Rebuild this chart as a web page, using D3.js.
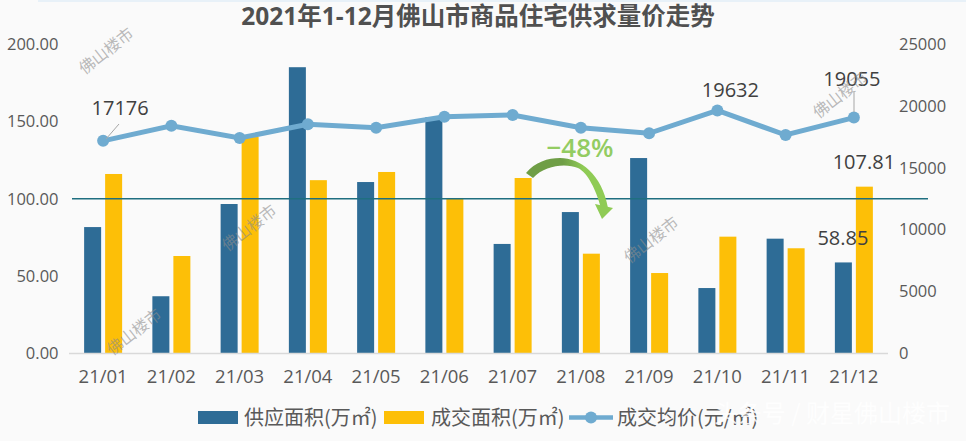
<!DOCTYPE html>
<html>
<head>
<meta charset="utf-8">
<script src="https://cdn.jsdelivr.net/npm/d3@7"></script>
<style>
html, body { margin: 0; padding: 0; background: #fafafa; }
svg { display: block; }
text { font-family: "Open Sans", "Noto Sans CJK SC", sans-serif; }
</style>
</head>
<body>
<svg id="chart" width="966" height="441"></svg>
<script>
var months = ["21/01","21/02","21/03","21/04","21/05","21/06","21/07","21/08","21/09","21/10","21/11","21/12"];
var supply = [81.7,37,96.6,185,110.8,152.7,70.8,91.4,126.3,42.3,74.2,58.85];
var sold = [116,63,140,112,117.3,100.5,113.4,64.5,52,75.5,68,107.81];
var price = [17176,18400,17407,18510,18240,19130,19265,18240,17790,19632,17650,19055];
var leftTicks = [0,50,100,150,200];
var rightTicks = [0,5000,10000,15000,20000,25000];
var marks = ["佛山楼市"];

var svg = d3.select("#chart");
var textColor = "#595959", blue = "#2e6c96", yellow = "#fdbf07", lineColor = "#6fabd0";

var x = d3.scaleBand().domain(months).range([69, 888]);
var yLeft = d3.scaleLinear().domain([0,200]).range([353.5, 44]);
var yRight = d3.scaleLinear().domain([0,25000]).range([353.5, 44]);
var barW = 17;

// strip along the top edge
svg.append("rect").attr("x",38).attr("y",0).attr("width",928).attr("height",2).attr("fill","#e8f1f8");

// title
svg.append("text").attr("x",478).attr("y",25).attr("text-anchor","middle")
    .attr("font-size",24.5).attr("font-weight",700).attr("fill","#505050")
    .text("2021年1-12月佛山市商品住宅供求量价走势");

// bars
svg.selectAll(".supply").data(months).enter().append("rect")
    .attr("class","supply")
    .attr("x",function(d){ return x(d)+x.bandwidth()/2-19; })
    .attr("width",barW)
    .attr("y",function(d,i){ return yLeft(supply[i]); })
    .attr("height",function(d,i){ return yLeft(0)-yLeft(supply[i]); })
    .attr("fill",blue);

svg.selectAll(".sold").data(months).enter().append("rect")
    .attr("class","sold")
    .attr("x",function(d){ return x(d)+x.bandwidth()/2+2; })
    .attr("width",barW)
    .attr("y",function(d,i){ return yLeft(sold[i]); })
    .attr("height",function(d,i){ return yLeft(0)-yLeft(sold[i]); })
    .attr("fill",yellow);

// baseline and the 100 line
svg.append("line").attr("x1",69).attr("x2",888).attr("y1",yLeft(0)).attr("y2",yLeft(0))
    .attr("stroke","#d9d9d9").attr("stroke-width",1.5);
svg.append("line").attr("x1",72).attr("x2",928).attr("y1",yLeft(100)).attr("y2",yLeft(100))
    .attr("stroke","#1f6f80").attr("stroke-width",1.3);

// price line
var line = d3.line()
    .x(function(d,i){ return x(months[i])+x.bandwidth()/2; })
    .y(function(d){ return yRight(d); });
svg.append("path").datum(price).attr("d",line)
    .attr("fill","none").attr("stroke",lineColor).attr("stroke-width",5);
svg.selectAll(".pt").data(price).enter().append("circle")
    .attr("class","pt")
    .attr("cx",function(d,i){ return x(months[i])+x.bandwidth()/2; })
    .attr("cy",function(d){ return yRight(d); })
    .attr("r",6).attr("fill",lineColor);

// axes
var axisLeft = d3.axisLeft(yLeft).tickValues(leftTicks).tickSize(0).tickPadding(0)
    .tickFormat(function(d){ return d3.format(".2f")(d); });
var gl = svg.append("g").attr("transform","translate(58.5,0)").call(axisLeft);
gl.select(".domain").remove();

var axisRight = d3.axisRight(yRight).tickValues(rightTicks).tickSize(0).tickPadding(0)
    .tickFormat(d3.format("d"));
var gr = svg.append("g").attr("transform","translate(899,0)").call(axisRight);
gr.select(".domain").remove();

var axisBottom = d3.axisBottom(x).tickSize(0).tickPadding(0);
var gb = svg.append("g").attr("transform","translate(0,370)").call(axisBottom);
gb.select(".domain").remove();

svg.selectAll(".tick text").attr("font-size",16.5).attr("fill",textColor)
    .style("font-family",'"Open Sans", sans-serif');
gb.selectAll(".tick text").attr("font-size",18.5);

// data labels
var labelData = [
    {t:"17176", i:0, dx:17, py:115},
    {t:"19632", i:9, dx:13, py:97},
    {t:"19055", i:11, dx:-2, py:86},
    {t:"107.81", i:11, dx:10, py:169},
    {t:"58.85", i:11, dx:-11, py:245}
];
svg.selectAll(".lab").data(labelData).enter().append("text")
    .attr("class","lab")
    .attr("x",function(d){ return x(months[d.i])+x.bandwidth()/2+d.dx; })
    .attr("y",function(d){ return d.py; })
    .attr("text-anchor","middle").attr("font-size",20).attr("fill","#404040")
    .text(function(d){ return d.t; });

// leader lines
svg.append("line").attr("x1",106).attr("y1",139).attr("x2",119).attr("y2",124).attr("stroke","#a6a6a6");
svg.append("line").attr("x1",854).attr("y1",112).attr("x2",854).attr("y2",92).attr("stroke","#a6a6a6");

// -48% callout
svg.append("text").attr("x",580).attr("y",157).attr("text-anchor","middle")
    .attr("font-size",26).attr("font-weight",600).attr("fill","#93cc62").text("−48%");
var defs = svg.append("defs");
var grad = defs.append("linearGradient").attr("id","arc").attr("x1","0").attr("x2","1").attr("y1","0").attr("y2","0");
grad.append("stop").attr("offset","0.45").attr("stop-color","#6f9e46");
grad.append("stop").attr("offset","0.7").attr("stop-color","#8fcb55");
svg.append("path")
    .attr("d","M526,173 C535,162 548,158 560,158 C580,158 602,174 608,208 L601,208 C596,190 588,173 578,168 C566,163 545,165 533,178 Z")
    .attr("fill","url(#arc)");
svg.append("path").attr("d","M595,204 L613,208 L602,219 Z").attr("fill","#8fcb55");

// watermarks
var markPos = [[107,52],[250,229],[135,333],[652,241],[841,96]];
svg.selectAll(".mark").data(markPos).enter().append("text")
    .attr("class","mark")
    .attr("transform",function(d){ return "translate("+d[0]+","+d[1]+") rotate(-38)"; })
    .attr("text-anchor","middle").attr("dominant-baseline","middle")
    .attr("font-size",16).attr("fill","#8c8c8c").attr("fill-opacity",0.6)
    .style("font-family",'"Noto Sans CJK SC", sans-serif')
    .text(marks[0]);

// legend
var legend = [
    {t:"供应面积(万㎡)", c:blue, x:198, tx:244},
    {t:"成交面积(万㎡)", c:yellow, x:384, tx:431}
];
svg.selectAll(".lg").data(legend).enter().append("rect")
    .attr("class","lg").attr("x",function(d){ return d.x; }).attr("y",411)
    .attr("width",40).attr("height",13).attr("fill",function(d){ return d.c; });
svg.append("line").attr("x1",569).attr("x2",613).attr("y1",417.5).attr("y2",417.5)
    .attr("stroke",lineColor).attr("stroke-width",4.5);
svg.append("circle").attr("cx",591).attr("cy",417.5).attr("r",6).attr("fill",lineColor);
legend.push({t:"成交均价(元/㎡)", tx:617});
svg.selectAll(".lgt").data(legend).enter().append("text")
    .attr("class","lgt").attr("x",function(d){ return d.tx; }).attr("y",425)
    .attr("font-size",20).attr("fill",textColor)
    .style("font-family",'"Noto Sans CJK SC", sans-serif')
    .text(function(d){ return d.t; });

// faint site mark bottom right
svg.append("text").attr("x",950).attr("y",422).attr("text-anchor","end")
    .attr("font-size",24).attr("fill","#ffffff").attr("fill-opacity",0.85)
    .style("font-family",'"Noto Sans CJK SC", sans-serif')
    .text("头条号 / 财星佛山楼市");
</script>
</body>
</html>
